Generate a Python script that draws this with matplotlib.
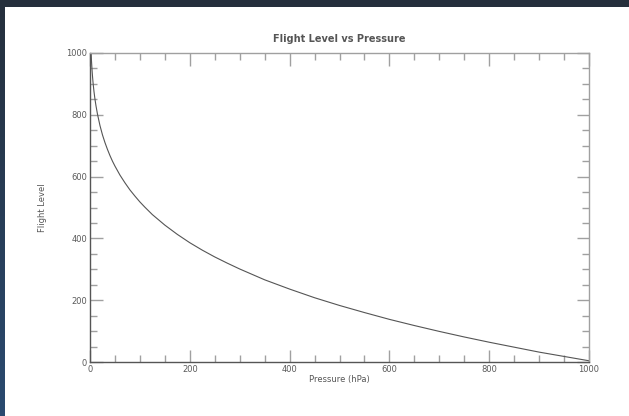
import numpy as np
import matplotlib
matplotlib.use("Agg")
import matplotlib.pyplot as plt
from matplotlib.patches import Rectangle
from matplotlib.ticker import MultipleLocator

# Data (pressure in hPa, flight level)
pressure = [1.0, 1.5, 2.0, 2.5, 3, 4, 5, 6, 7, 8, 10, 12, 15, 20, 25, 30, 35,
            40, 45, 50, 60, 70, 80, 90, 100, 110, 125, 150, 175, 200, 225,
            250, 275, 300, 350, 400, 450, 500, 550, 600, 650, 700, 750, 800,
            850, 900, 950, 1000]
flight_level = [1064, 1033, 1012, 990, 974, 947, 925, 906, 890, 875, 850, 829,
                802, 765, 735, 710, 688, 668, 650, 634, 605, 580, 557, 537,
                518, 501, 477, 443, 413, 386, 362, 340, 320, 301, 266, 236,
                208, 183, 160, 138, 118, 99, 81, 64, 48, 32, 18, 4]
x_ticks = [0, 200, 400, 600, 800, 1000]
y_ticks = [0, 200, 400, 600, 800, 1000]

W, H = 629, 416
fig = plt.figure(figsize=(W / 100, H / 100), dpi=100)

# dark background with subtle vertical gradient
bg = fig.add_axes([0, 0, 1, 1], zorder=-10)
bg.set_axis_off()
top = np.array([0x25, 0x2f, 0x3c]) / 255
bot = np.array([0x2a, 0x4a, 0x70]) / 255
t = np.linspace(0, 1, 100)[:, None]
grad = (top[None, :] * (1 - t) + bot[None, :] * t)[:, None, :]
bg.imshow(grad, aspect="auto", extent=[0, 1, 0, 1], origin="upper")
bg.set_xlim(0, 1)
bg.set_ylim(0, 1)
bg.add_patch(Rectangle((5 / W, 0), 1 - 5 / W, 1 - 7 / H,
                       facecolor="white", edgecolor="none"))

ax = fig.add_axes([90 / W, 1 - 362 / H, (589 - 90) / W, (362 - 53) / H])
ax.set_facecolor("white")
ax.plot(pressure, flight_level, color="#555555", lw=0.8)
ax.set_xlim(0, 1000)
ax.set_ylim(0, 1000)
ax.set_xticks(x_ticks)
ax.set_yticks(y_ticks)
ax.xaxis.set_minor_locator(MultipleLocator(50))
ax.yaxis.set_minor_locator(MultipleLocator(50))
gray = "#a0a0a0"
for s in ax.spines.values():
    s.set_color(gray)
    s.set_linewidth(1.0)
ax.spines["left"].set_color("#555555")
ax.spines["bottom"].set_color("#555555")
ax.tick_params(which="both", direction="in", top=True, right=True,
               color=gray, labelsize=6, labelcolor="#5a5a5a", pad=2)
ax.tick_params(which="major", length=9, width=1.0)
ax.tick_params(which="minor", length=5, width=1.0)

ax.set_title("Flight Level vs Pressure", fontsize=7, color="#555555",
             fontweight="bold", pad=8)
ax.set_xlabel("Pressure (hPa)", fontsize=6, color="#555555", labelpad=1)
ax.set_ylabel("Flight Level", fontsize=6, color="#555555", labelpad=14)

fig.savefig("out.png", dpi=100)
